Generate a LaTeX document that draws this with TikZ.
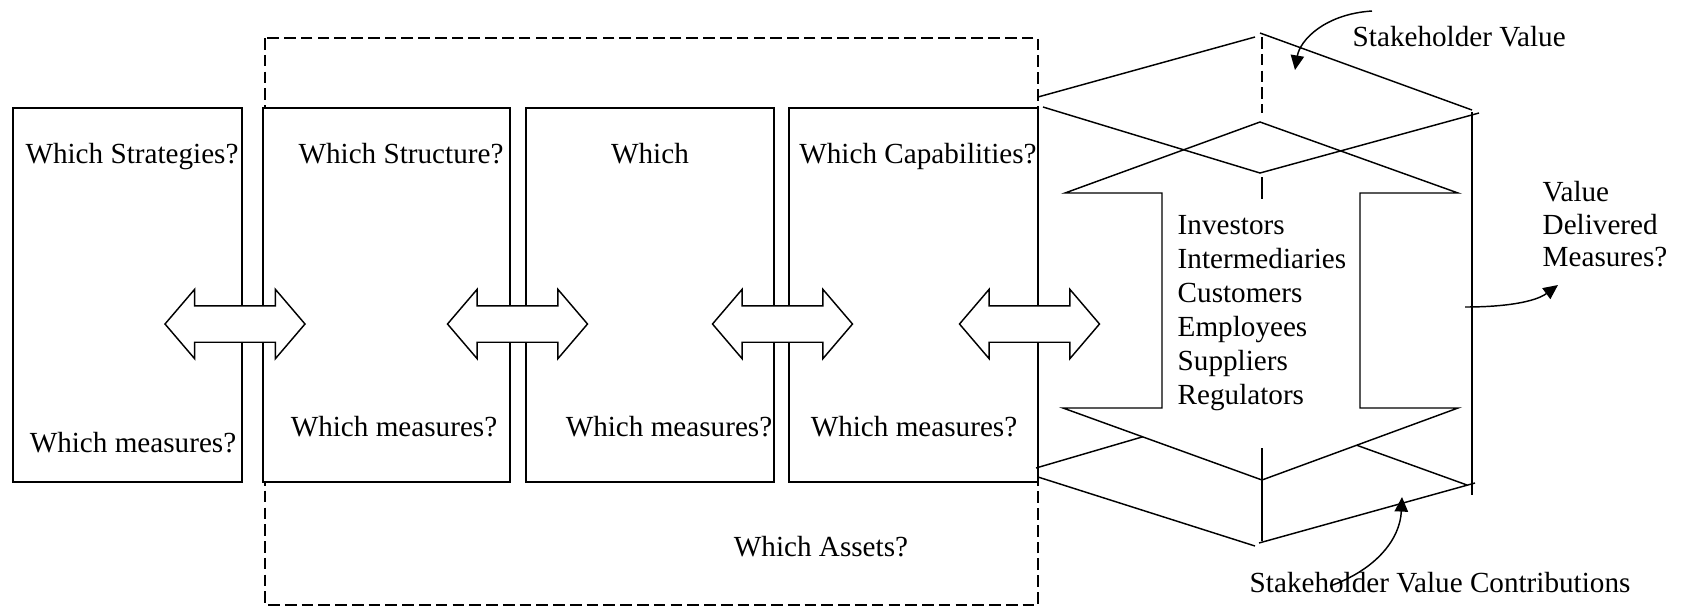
\documentclass[tikz,border=0pt]{standalone}
\usepackage{fontspec}
\setmainfont{Liberation Serif}
\usetikzlibrary{shapes.arrows,arrows.meta}
\newdimen\pxu
\pxu=0.4115pt

\begin{document}
\begin{tikzpicture}[x=0.4115pt, y=-0.4115pt, line width=0.6pt,
    font=\fontsize{12}{14}\selectfont,
    stage/.style={draw, rectangle, fill=white, inner sep=0pt, minimum height=374*\pxu},
    link/.style={double arrow, draw, fill=white, inner xsep=0pt, inner ysep=17.5*\pxu,
        minimum height=140*\pxu, minimum width=68*\pxu, double arrow head extend=16.5*\pxu,
        double arrow tip angle=99},
    assetline/.style={dash pattern=on 4.8pt off 2.1pt},
    note/.style={anchor=base west, inner sep=0pt},
    pointer/.style={-{Triangle[length=6pt,width=5.5pt]}}]
	\useasboundingbox (0,0) rectangle (1681,606);

	% assets frame
	\draw[assetline] (265,38) rectangle (1038,605);

	\node[stage, minimum width=229*\pxu] (strat) at (127.5,295) {};
	\node[stage, minimum width=247*\pxu] (struct) at (386.5,295) {};
	\node[stage, minimum width=248*\pxu] (proc) at (650,295) {};
	\node[stage, minimum width=249*\pxu] (capab) at (913.5,295) {};

	\node[anchor=base] (qstrat) at (132,163) {Which Strategies?};
	\node[anchor=base] (mstrat) at (133,452.5) {Which measures?};
	\node[anchor=base] (qstruct) at (401,163) {Which Structure?};
	\node[anchor=base] (mstruct) at (394,436.5) {Which measures?};
	\node[anchor=base] (qproc) at (650,163) {Which};
	\node[anchor=base] (mproc) at (669,436.5) {Which measures?};
	\node[anchor=base] (qcapab) at (918,163) {Which Capabilities?};
	\node[anchor=base] (mcapab) at (914,436.5) {Which measures?};
	\node[anchor=base] (assets) at (821,556.5) {Which Assets?};

	\node[link] (l1) at (235,324) {};
	\node[link] (l2) at (517.5,324) {};
	\node[link] (l3) at (782.5,324) {};
	\node[link] (l4) at (1029.5,324) {};

	% bottom plane
	\draw (1036,468) -- (1248,406) -- (1467,485);
	\draw (1038,477) -- (1255,546);
	\draw (1259,543) -- (1475,483);
	% value arrow
	\draw[fill=white] (1260,122) -- (1458,193) -- (1360,193) -- (1360,408) -- (1458,408)
	    -- (1262,480) -- (1063,408) -- (1162,408) -- (1162,193) -- (1065,193) -- cycle;
	% top plane
	\draw (1038,97) -- (1255,37);
	\draw (1260,33) -- (1472,110);
	\draw (1043,107) -- (1260,173) -- (1479,113);
	\draw[assetline] (1262,37) -- (1262,113);
	\draw (1262,177) -- (1262,199);
	\draw (1262,448) -- (1262,541);
	\draw (1472,112) -- (1472,495);

	\node[note] (sv) at (1352,46.5) {Stakeholder Value};
	\node[note] (svc) at (1249,592) {Stakeholder Value Contributions};
	\foreach \who [count=\i from 0] in {Investors,Intermediaries,Customers,Employees,Suppliers,Regulators}
	    \node[note] (who\i) at (1177,234.5+34*\i) {\who};
	\foreach \w [count=\i from 0] in {Value,Delivered,Measures?}
	    \node[note] (vd\i) at (1542,201.5+32.5*\i) {\w};

	\coordinate (svtail) at (1372,11);
	\coordinate (svtip) at (1295,70);
	\draw[pointer] (svtail) .. controls (1325,14) and (1300,40) .. (svtip);
	\coordinate (svctail) at (1330,586);
	\coordinate (svctip) at (1402,497);
	\draw[pointer] (svctail) .. controls (1375,570) and (1400,540) .. (svctip);
	\coordinate (vdtail) at (1465,307);
	\coordinate (vdtip) at (1558,285);
	\draw[pointer] (vdtail) .. controls (1505,307) and (1535,302) .. (vdtip);
\end{tikzpicture}
\end{document}
